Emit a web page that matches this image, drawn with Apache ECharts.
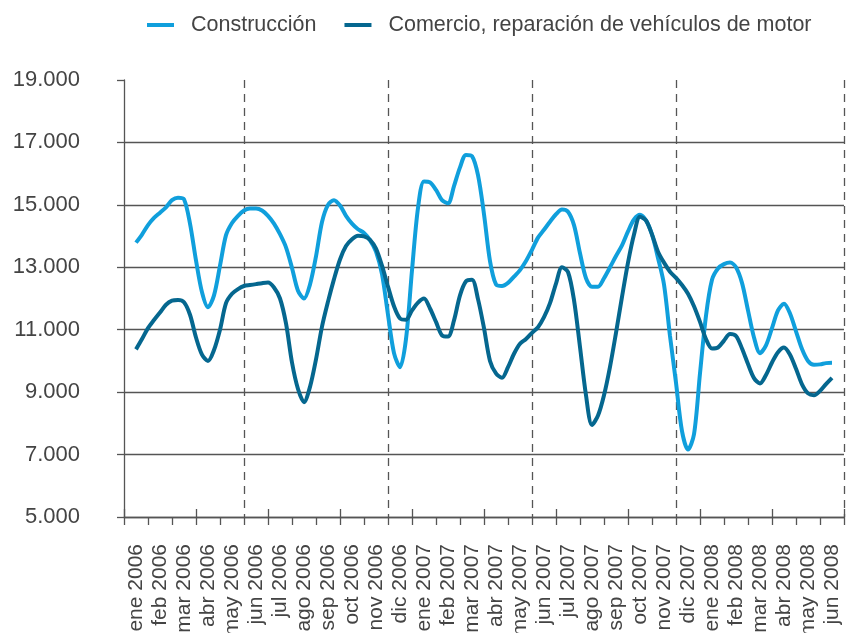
<!DOCTYPE html>
<html>
<head>
<meta charset="utf-8">
<title>Construcción y Comercio</title>
<script src="https://cdn.jsdelivr.net/npm/echarts@6/dist/echarts.min.js"></script>
<style>
  html, body { margin: 0; padding: 0; background: #fff; }
  #chart { width: 848px; height: 633px; }
</style>
</head>
<body>
<div id="chart"></div>
<script>
// Month labels shown on the category axis
const months = [
  'ene 2006','feb 2006','mar 2006','abr 2006','may 2006','jun 2006',
  'jul 2006','ago 2006','sep 2006','oct 2006','nov 2006','dic 2006',
  'ene 2007','feb 2007','mar 2007','abr 2007','may 2007','jun 2007',
  'jul 2007','ago 2007','sep 2007','oct 2007','nov 2007','dic 2007',
  'ene 2008','feb 2008','mar 2008','abr 2008','may 2008','jun 2008'
];

// Months that open a new half year (dashed separators)
const halfYearStarts = ['jun 2006', 'dic 2006', 'jun 2007', 'dic 2007'];

// Observations are taken four times per month, starting mid ene 2006
const samplesPerMonth = 4;

const construccion = [
  13790, 14050, 14350, 14580, 14750, 14920, 15150, 15230,
  15180, 14400, 13220, 12200, 11720, 12100, 13050, 14030,
  14420, 14650, 14820, 14880, 14880, 14820, 14650, 14400,
  14060, 13640, 12980, 12250, 12000, 12450, 13350, 14450,
  15000, 15150, 14980, 14650, 14400, 14220, 14100, 13870,
  13500, 12780, 11480, 10250, 9800, 10700, 12900, 14900,
  15750, 15720, 15480, 15150, 15050, 15600, 16200, 16600,
  16560, 15950, 14700, 13200, 12450, 12400, 12500, 12700,
  12910, 13200, 13560, 13950, 14200, 14460, 14700, 14850,
  14780, 14350, 13450, 12650, 12380, 12380, 12650, 13000,
  13360, 13700, 14150, 14530, 14680, 14500, 14050, 13300,
  12450, 10800, 9300, 7750, 7160, 7650, 9600, 11450,
  12600, 12960, 13100, 13150, 13000, 12500, 11620, 10750,
  10250, 10500, 11050, 11620, 11830, 11520, 10950, 10380,
  10000, 9880, 9890, 9930, 9940
];

const comercio = [
  10370, 10700, 11050, 11310, 11550, 11800, 11930, 11950,
  11880, 11480, 10750, 10200, 10000, 10350, 11000, 11850,
  12150, 12300, 12400, 12430, 12460, 12490, 12510, 12350,
  12000, 11200, 9950, 9100, 8680, 9170, 10050, 11100,
  11900, 12620, 13250, 13680, 13900, 14010, 13990, 13880,
  13600, 13050, 12380, 11750, 11360, 11320, 11620, 11870,
  12000, 11680, 11250, 10820, 10780, 11300, 12100, 12550,
  12600, 11980, 11050, 10000, 9600, 9460, 9800, 10230,
  10550, 10700, 10900, 11080, 11400, 11850, 12480, 13000,
  12850, 11950, 10450, 8900, 7950, 8250, 8900, 9810,
  10900, 12050, 13150, 14050, 14620, 14500, 14050, 13500,
  13150, 12860, 12660, 12430, 12150, 11750, 11250, 10700,
  10400, 10430, 10650, 10860, 10800, 10400, 9900, 9450,
  9280, 9550, 9950, 10280, 10430, 10200, 9750, 9250,
  8960, 8900, 9040, 9260, 9460
];

// Pair each observation with its position in month units (0 = ene 2006)
const toPoints = arr => arr.map((v, i) => [i / samplesPerMonth, v]);

const textColor = '#444';
const axisColor = '#555';
const fontFamily = '"Liberation Sans", Arial, Helvetica, sans-serif';

const thousands = v => {
  const s = String(Math.round(v));
  return s.replace(/\B(?=(\d{3})+(?!\d))/g, '.');
};

const halfYearIdx = halfYearStarts.map(m => months.indexOf(m));

const chart = echarts.init(document.getElementById('chart'), null, { renderer: 'canvas' });

chart.setOption({
  animation: false,
  backgroundColor: '#fff',
  textStyle: { fontFamily: fontFamily },
  color: ['#109fdc', '#05678f'],
  legend: {
    top: 9,
    left: 142,
    icon: 'rect',
    itemWidth: 27,
    itemHeight: 4,
    itemGap: 28,
    textStyle: { color: textColor, fontSize: 21.5, fontFamily: fontFamily, padding: [0, 0, 0, 12] },
    data: ['Construcción', 'Comercio, reparación de vehículos de motor']
  },
  grid: { left: 124, right: 4, top: 80, bottom: 116, containLabel: false, outerBoundsMode: 'none' },
  xAxis: [
    {
      type: 'category',
      data: months,
      position: 'bottom',
      boundaryGap: true,
      axisLine: { show: true, onZero: false, lineStyle: { color: axisColor, width: 1.3 } },
      axisTick: { show: true, inside: false, length: 8, lineStyle: { color: axisColor, width: 1.3 } },
      axisLabel: {
        rotate: 90,
        interval: 0,
        margin: 27,
        color: textColor,
        fontSize: 21,
        fontFamily: fontFamily
      },
      splitLine: {
        show: true,
        interval: (idx) => halfYearIdx.indexOf(idx) !== -1,
        lineStyle: { color: axisColor, width: 1.3, type: [8, 6] }
      }
    },
    {
      type: 'category',
      data: months,
      position: 'bottom',
      boundaryGap: true,
      axisLine: { show: false, onZero: false },
      axisTick: { show: true, inside: true, length: 8, lineStyle: { color: axisColor, width: 1.3 } },
      axisLabel: { show: false },
      splitLine: { show: false }
    },
    {
      type: 'value',
      min: -0.5,
      max: months.length - 0.5,
      show: false,
      axisLine: { onZero: false }
    }
  ],
  yAxis: {
    type: 'value',
    min: 5000,
    max: 19000,
    interval: 2000,
    axisLine: { show: true, onZero: false, lineStyle: { color: axisColor, width: 1.3 } },
    axisTick: { show: true, inside: false, length: 7, lineStyle: { color: axisColor, width: 1.3 } },
    axisLabel: {
      margin: 44,
      color: textColor,
      fontSize: 22,
      fontFamily: fontFamily,
      formatter: thousands
    },
    splitLine: {
      show: true,
      showMaxLine: false,
      lineStyle: { color: axisColor, width: 1.3 }
    }
  },
  series: [
    {
      name: 'Construcción',
      type: 'line',
      xAxisIndex: 2,
      data: toPoints(construccion),
      smooth: 0.3,
      showSymbol: false,
      lineStyle: { width: 4 },
      z: 3
    },
    {
      name: 'Comercio, reparación de vehículos de motor',
      type: 'line',
      xAxisIndex: 2,
      data: toPoints(comercio),
      smooth: 0.3,
      showSymbol: false,
      lineStyle: { width: 4 },
      z: 4
    }
  ]
});
</script>
</body>
</html>
